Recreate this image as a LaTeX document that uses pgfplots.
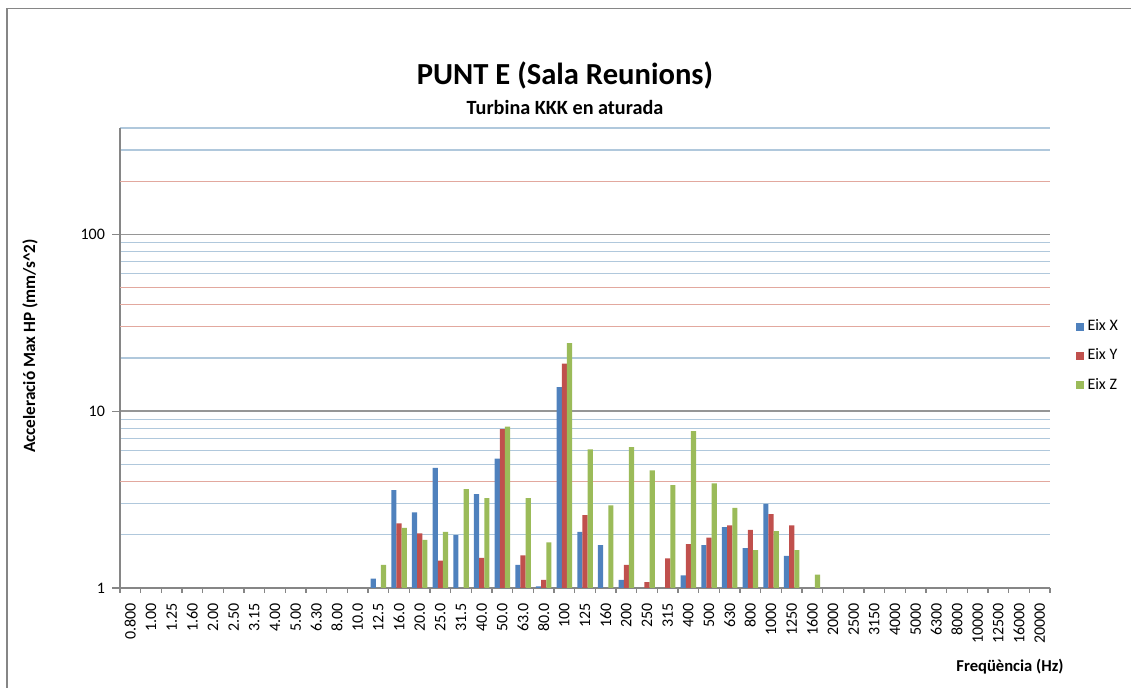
\documentclass[border=0pt]{standalone}
\usepackage{fontspec}
\setmainfont{Carlito}
\usepackage{pgfplots}
\pgfplotsset{compat=1.18}
\definecolor{eixx}{RGB}{79,129,189}
\definecolor{eixy}{RGB}{192,80,77}
\definecolor{eixz}{RGB}{155,187,89}
\definecolor{axgray}{RGB}{134,134,134}
\definecolor{gridmaj}{RGB}{150,150,150}
\definecolor{gridblue}{RGB}{176,200,220}
\definecolor{gridred}{RGB}{226,168,158}

\begin{document}
\begin{tikzpicture}
\path[use as bounding box] (0,0) rectangle (565.5pt,344pt);
\draw[axgray, line width=0.9pt] (3.5pt,0) -- (3.5pt,339.75pt) -- (565.5pt,339.75pt);
\begin{axis}[
    at={(60pt,50pt)}, anchor=south west,
    scale only axis,
    width=465pt, height=230pt,
    ymode=log,
    ymin=1, ymax=400,
    xmin=-0.5, xmax=44.5,
    axis x line*=bottom,
    axis y line*=left,
    axis line style={axgray, line width=0.8pt},
    ybar=0pt,
    bar width=0.25,
    xtick={0,...,44},
    xticklabels={0.800,1.00,1.25,1.60,2.00,2.50,3.15,4.00,5.00,6.30,8.00,10.0,12.5,16.0,20.0,25.0,31.5,40.0,50.0,63.0,80.0,100,125,160,200,250,315,400,500,630,800,1000,1250,1600,2000,2500,3150,4000,5000,6300,8000,10000,12500,16000,20000},
    minor xtick={-0.5,0.5,...,44.5},
    ytick={1,10,100},
    yticklabels={1,10,100},
    minor ytick={2,3,5,6,7,8,9,20,60,70,80,90,300,400},
    tick align=outside,
    major tick length=4pt,
    minor tick length=2.5pt,
    major x tick style={draw=none},
    minor x tick style={axgray, line width=0.6pt},
    major y tick style={axgray, line width=0.6pt},
    minor y tick style={draw=none},
    xmajorgrids=false, xminorgrids=false,
    ymajorgrids=true, yminorgrids=true,
    major grid style={gridmaj, line width=0.8pt},
    minor grid style={gridblue, line width=0.6pt},
    extra y ticks={4,30,40,50,200},
    extra y tick labels={},
    extra y tick style={major tick length=0pt, major grid style={gridred, line width=0.6pt}},
    xticklabel style={rotate=90, anchor=east, font=\fontsize{8}{9}\selectfont},
    yticklabel style={font=\fontsize{8}{9}\selectfont},
    /pgf/number format/assume math mode=true,
    legend style={at={(1.027,0.593)}, anchor=north west, draw=none, fill=none,
        font=\fontsize{8}{9.6}\selectfont, row sep=3.6pt, inner sep=0pt},
    legend cell align=left,
    legend image code/.code={\fill[#1] (0pt,-2pt) rectangle (4pt,2pt);},
]
\addplot[fill=eixx, draw=none] coordinates {
    (12,1.13) (13,3.58) (14,2.68) (15,4.78) (16,1.99) (17,3.40) (18,5.40)
    (19,1.35) (20,1.02) (21,13.7) (22,2.08) (23,1.75) (24,1.11) (27,1.18)
    (28,1.75) (29,2.21) (30,1.68) (31,2.99) (32,1.52)
};
\addplot[fill=eixy, draw=none] coordinates {
    (13,2.32) (14,2.04) (15,1.43) (17,1.48) (18,7.91) (19,1.53) (20,1.11)
    (21,18.6) (22,2.58) (24,1.35) (25,1.08) (26,1.47) (27,1.77) (28,1.93)
    (29,2.26) (30,2.13) (31,2.62) (32,2.26)
};
\addplot[fill=eixz, draw=none] coordinates {
    (12,1.35) (13,2.19) (14,1.87) (15,2.08) (16,3.63) (17,3.22) (18,8.19)
    (19,3.22) (20,1.81) (21,24.3) (22,6.08) (23,2.93) (24,6.26) (25,4.62)
    (26,3.82) (27,7.71) (28,3.90) (29,2.84) (30,1.64) (31,2.10) (32,1.64)
    (33,1.19)
};
\legend{Eix X, Eix Y, Eix Z}
\end{axis}
\node[font=\fontsize{15.3}{18}\selectfont\bfseries] at (282.5pt,306.5pt) {PUNT E (Sala Reunions)};
\node[font=\fontsize{10.1}{12}\selectfont\bfseries] at (282.5pt,290pt) {Turbina KKK en aturada};
\node[font=\fontsize{8.6}{10}\selectfont\bfseries, rotate=90] at (15pt,171pt) {Acceleració Max HP (mm/s\^{}2)};
\node[font=\fontsize{8.3}{10}\selectfont\bfseries] at (505pt,10.5pt) {Freqüència (Hz)};
\end{tikzpicture}
\end{document}
